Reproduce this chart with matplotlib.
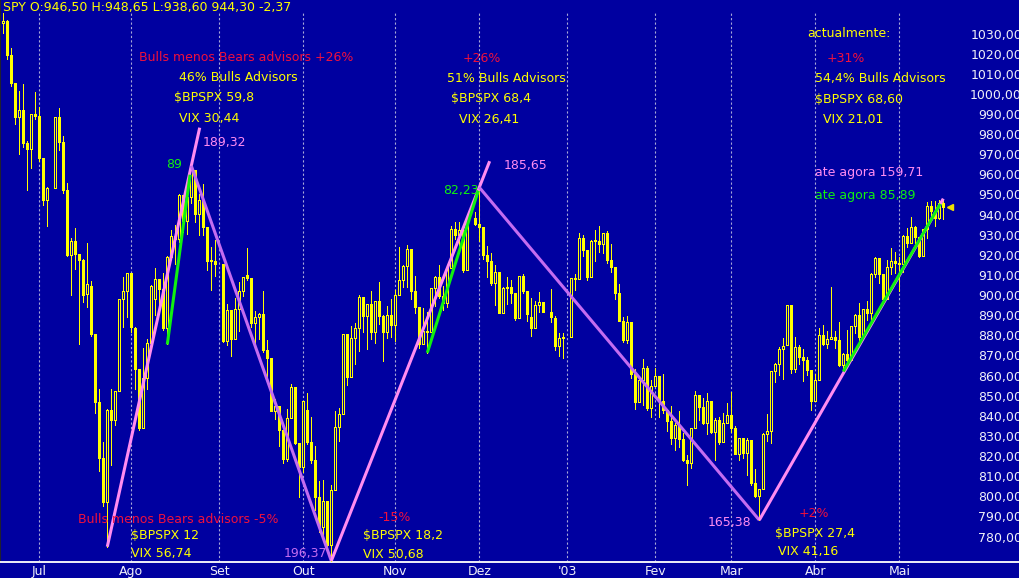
import numpy as np
import pandas as pd
import matplotlib
matplotlib.use("Agg")
import matplotlib.pyplot as plt
import matplotlib.transforms as mtransforms

# ---- daily bars (Jun 18 2002 .. May 16 2003), one line per month ----
opens = [
    1036.17, 1037.14, 1019.99, 1006.29, 989.14, 992.72, 976.14, 973.53, 990.64,
    989.82, 968.65, 948.09, 953.99, 989.03, 976.98, 952.83, 920.47, 927.37, 921.39, 917.93, 901.05, 905.45, 881.56, 847.76, 819.85, 797.71, 843.42, 838.68, 852.84, 898.96, 902.78,
    911.62, 884.40, 864.24, 834.60, 859.57, 876.77, 898.73, 908.64, 903.80, 884.21, 919.62, 930.25, 928.77, 950.70, 937.43, 949.36, 962.70, 940.86, 947.95, 934.82, 917.87, 917.80,
    916.07, 878.02, 893.40, 879.15, 893.92, 902.96, 910.63, 909.45, 886.91, 889.81, 891.10, 873.52, 869.46, 843.32, 845.39, 833.70, 819.27, 839.66, 854.95, 827.37,
    815.28, 843.77, 827.91, 818.95, 800.58, 785.28, 798.55, 776.76, 803.92, 835.32, 841.44, 881.27, 860.02, 879.20, 884.39, 899.72, 890.16, 896.14, 882.50, 897.65, 890.23, 882.15, 890.71,
    885.76, 900.96, 908.35, 915.39, 923.76, 902.65, 894.74, 876.19, 882.95, 882.53, 904.27, 909.83, 900.36, 896.74, 914.15, 933.76, 930.55, 932.87, 913.31, 938.87,
    936.31, 934.53, 920.75, 917.58, 906.55, 912.23, 892.00, 904.45, 904.96, 901.58, 889.48, 910.40, 902.99, 890.02, 884.25, 895.74, 897.38, 892.47, 889.31, 875.40, 879.39,
    879.82, 909.03, 908.59, 929.01, 922.93, 909.93, 927.58, 927.57, 926.26, 931.66, 918.22, 914.60, 901.78, 887.62, 878.36, 887.34, 861.40, 847.48, 858.54, 864.36, 844.61,
    855.70, 860.32, 848.20, 843.59, 838.15, 829.69, 835.97, 829.20, 818.68, 817.37, 834.89, 851.17, 845.13, 837.10, 848.17, 832.58, 838.57, 827.55, 837.28,
    841.15, 834.81, 821.99, 829.85, 822.10, 828.89, 807.48, 800.73, 804.19, 831.89, 833.27, 862.79, 866.45, 874.02, 875.84, 895.79, 864.23, 874.74, 869.95, 868.52, 863.50,
    848.18, 858.48, 880.90, 876.45, 878.85, 879.93, 878.29, 865.99, 871.58, 868.30, 885.23, 890.81, 879.91, 893.58, 892.01, 911.37, 919.02, 911.43, 898.81, 914.84, 917.84,
    916.92, 916.30, 930.08, 926.55, 934.39, 929.62, 920.27, 933.41, 945.11, 942.30, 939.28, 946.50,
]
highs = [
    1040.83, 1037.61, 1023.33, 1006.29, 1002.11, 1005.88, 977.43, 990.67, 1001.79,
    994.46, 968.65, 954.30, 989.07, 993.56, 979.63, 956.34, 929.16, 934.31, 921.39, 918.65, 926.52, 907.80, 881.56, 854.13, 827.69, 844.32, 853.83, 852.85, 898.96, 909.81, 911.64,
    911.62, 884.72, 864.24, 874.44, 878.74, 905.84, 913.95, 908.64, 911.71, 920.21, 933.29, 935.38, 951.17, 950.70, 951.59, 965.00, 962.70, 950.80, 955.82, 934.82, 924.59, 928.15,
    916.07, 896.10, 893.40, 899.07, 907.34, 909.89, 924.02, 909.45, 892.75, 891.84, 902.68, 878.45, 869.46, 849.32, 845.39, 833.70, 844.22, 856.60, 854.95, 827.37,
    847.93, 851.93, 840.02, 825.90, 808.21, 808.86, 798.55, 806.51, 843.27, 844.39, 881.27, 881.27, 885.35, 886.68, 900.69, 899.72, 896.14, 902.94, 897.71, 907.44, 890.64, 895.28, 898.83,
    903.42, 924.58, 915.83, 925.66, 923.76, 910.11, 894.74, 894.30, 892.51, 904.27, 910.21, 915.91, 905.45, 915.01, 935.13, 937.15, 937.15, 932.87, 940.41, 941.82,
    954.28, 934.53, 925.25, 921.49, 915.48, 912.23, 904.95, 909.94, 908.37, 901.58, 910.42, 911.22, 902.99, 899.19, 897.79, 902.43, 897.38, 903.89, 890.46, 882.10, 881.93,
    909.03, 911.25, 931.77, 930.81, 922.93, 928.31, 932.89, 935.05, 931.66, 932.59, 926.03, 914.60, 906.00, 889.74, 890.25, 887.34, 863.95, 860.76, 868.72, 865.48, 858.33,
    864.64, 860.32, 861.63, 844.23, 845.73, 837.16, 843.02, 832.12, 821.25, 834.89, 852.87, 851.17, 849.37, 852.28, 848.17, 839.55, 840.10, 842.19, 847.00,
    852.34, 835.43, 829.87, 829.85, 829.55, 828.89, 814.25, 804.19, 832.02, 841.39, 862.79, 866.94, 874.99, 879.60, 895.90, 895.79, 879.87, 875.80, 874.15, 869.88, 863.50,
    861.28, 884.57, 885.89, 882.73, 904.89, 883.11, 887.35, 871.78, 883.34, 885.26, 891.27, 896.77, 893.83, 898.01, 911.74, 919.74, 919.02, 911.43, 918.15, 924.24, 922.01,
    919.68, 930.56, 933.88, 939.61, 935.22, 929.62, 933.77, 946.84, 947.51, 947.29, 948.23, 948.65,
]
lows = [
    1030.92, 1017.88, 1004.59, 985.65, 970.85, 974.21, 952.92, 963.74, 988.31,
    967.43, 945.54, 934.87, 953.99, 972.91, 951.71, 920.29, 900.94, 913.71, 876.46, 897.13, 895.03, 880.60, 842.07, 813.26, 796.13, 775.68, 816.11, 835.92, 852.84, 884.70, 889.88,
    882.48, 853.95, 833.44, 834.60, 854.15, 875.17, 890.77, 892.38, 883.62, 876.20, 918.17, 916.21, 927.21, 931.86, 931.32, 946.43, 937.17, 930.42, 930.36, 913.21, 903.33, 910.17,
    877.51, 875.73, 870.50, 879.15, 882.92, 900.50, 908.47, 884.84, 877.05, 878.91, 872.38, 857.39, 843.09, 839.09, 825.76, 817.38, 818.46, 839.66, 826.84, 800.20,
    812.82, 826.50, 817.25, 794.10, 782.96, 779.50, 775.80, 768.63, 803.92, 828.37, 841.44, 856.28, 860.02, 866.58, 873.06, 882.40, 873.82, 879.00, 877.03, 886.15, 867.91, 879.19, 879.75,
    877.71, 900.96, 904.91, 905.00, 898.68, 891.62, 874.63, 876.19, 872.05, 882.53, 895.35, 899.48, 893.09, 894.93, 914.15, 928.41, 923.31, 912.10, 913.31, 935.58,
    927.72, 918.73, 909.51, 905.90, 895.96, 891.97, 892.00, 896.48, 897.00, 888.48, 889.48, 901.74, 887.82, 880.32, 884.25, 892.26, 892.29, 887.48, 873.62, 870.23, 869.45,
    879.82, 903.07, 908.59, 919.93, 908.32, 909.93, 917.66, 922.05, 921.72, 916.70, 911.98, 899.02, 887.62, 877.64, 876.89, 859.71, 844.25, 847.48, 845.86, 843.74, 840.34,
    855.70, 840.19, 842.11, 833.25, 826.70, 823.53, 825.09, 818.49, 806.29, 815.03, 834.89, 838.79, 836.56, 831.48, 832.16, 818.54, 826.68, 827.55, 837.28,
    832.74, 821.96, 819.00, 819.85, 811.23, 806.57, 800.30, 788.90, 804.19, 828.26, 827.17, 857.36, 861.21, 859.01, 875.84, 862.02, 862.59, 866.47, 858.09, 860.83, 843.68,
    847.85, 858.48, 876.12, 874.23, 878.85, 874.68, 865.72, 862.76, 865.92, 868.30, 881.85, 877.93, 879.20, 888.17, 886.70, 909.89, 906.69, 897.52, 898.81, 911.10, 911.70,
    902.83, 912.35, 924.55, 926.38, 926.44, 919.72, 920.27, 929.30, 938.91, 935.24, 938.79, 938.60,
]
closes = [
    1037.14, 1019.99, 1006.29, 989.14, 992.72, 976.14, 973.53, 990.64, 989.82,
    968.65, 948.09, 953.99, 989.03, 976.98, 952.83, 920.47, 927.37, 921.39, 917.93, 900.94, 906.04, 881.56, 847.75, 819.85, 797.70, 843.43, 838.68, 852.84, 898.96, 902.78, 911.62,
    884.66, 864.24, 834.60, 859.57, 876.77, 905.46, 908.64, 903.80, 884.21, 919.62, 930.25, 928.77, 950.70, 937.43, 949.36, 962.70, 940.86, 947.95, 934.82, 917.87, 917.80, 916.07,
    878.02, 893.40, 879.15, 893.92, 902.96, 909.58, 909.45, 886.91, 889.81, 891.10, 873.52, 869.46, 843.32, 845.39, 833.70, 819.29, 839.66, 854.95, 827.37, 815.28,
    847.91, 827.91, 818.95, 800.58, 785.28, 798.55, 776.76, 803.92, 835.32, 841.44, 881.27, 860.02, 879.20, 884.39, 899.72, 890.16, 896.14, 882.50, 897.65, 890.23, 882.15, 890.71, 885.76,
    900.96, 908.35, 915.39, 923.76, 902.65, 894.74, 876.19, 882.95, 882.53, 904.27, 909.83, 900.36, 896.74, 914.15, 933.76, 930.55, 932.87, 913.31, 938.87, 936.31,
    934.53, 920.75, 917.58, 906.55, 912.23, 892.00, 904.45, 904.96, 901.58, 889.48, 910.40, 902.99, 891.12, 884.25, 895.76, 897.38, 892.47, 889.66, 875.40, 879.39, 879.82,
    909.03, 908.59, 929.01, 922.93, 909.93, 927.57, 927.57, 926.26, 931.66, 918.22, 914.60, 901.78, 887.62, 878.36, 887.34, 861.40, 847.48, 858.54, 864.36, 844.61, 855.70,
    860.32, 848.20, 843.59, 838.15, 829.69, 835.97, 829.20, 818.68, 817.37, 834.89, 851.17, 845.13, 837.10, 848.17, 832.58, 838.57, 827.55, 837.28, 841.15,
    834.81, 821.99, 829.85, 822.10, 828.89, 807.48, 800.73, 804.19, 831.90, 833.27, 862.79, 866.45, 874.02, 875.67, 895.79, 864.23, 874.74, 869.95, 868.52, 863.50, 848.18,
    858.48, 880.90, 876.45, 878.85, 879.93, 878.29, 865.99, 871.58, 868.30, 885.23, 890.81, 879.91, 893.58, 892.01, 911.37, 919.02, 911.43, 898.81, 914.84, 917.84, 916.92,
    916.30, 930.08, 926.55, 934.39, 929.62, 920.27, 933.41, 945.11, 942.30, 939.28, 946.67, 944.30,
]

market_holidays = ["2002-07-04", "2002-09-02", "2002-11-28", "2002-12-25",
                   "2003-01-01", "2003-01-20", "2003-02-17", "2003-04-18"]
skipped_slots = ["2003-01-20", "2003-02-17", "2003-04-18"]  # chart leaves no gap for these
month_labels = ["Jul", "Ago", "Set", "Out", "Nov", "Dez", "'03", "Fev", "Mar", "Abr", "Mai"]
price_ticks = list(range(780, 1031, 10))

# swing legs: (start date, start field, end date, end field, extend, kind)
legs = [
    ("2002-07-24", "low", "2002-08-22", "high", 1.10, "up"),
    ("2002-08-22", "high", "2002-10-10", "low", 1.00, "down"),
    ("2002-10-10", "low", "2002-12-02", "high", 1.07, "up"),
    ("2002-12-02", "high", "2003-03-12", "low", 1.00, "down"),
    ("2003-03-12", "low", "2003-05-16", "high", 1.00, "up"),
    ("2002-08-14", "low", "2002-08-22", "high", 0.95, "short"),
    ("2002-11-13", "low", "2002-12-02", "high", 0.98, "short"),
    ("2003-04-10", "low", "2003-05-16", "high", 0.97, "short"),
]

bg = "#0000A0"
yellow = "#FFFF00"
red = "#F0103C"
pink = "#FF8CF0"
violet = "#C46CF0"
green = "#10F010"
white = "#F0F0F8"

# (text, slot, price, colour)
notes = [
    ("Bulls menos Bears advisors +26%", 33.85, 1018.7, red),
    ("46% Bulls Advisors", 43.9, 1008.8, yellow),
    ("$BPSPX 59,8", 42.75, 998.7, yellow),
    ("VIX 30,44", 43.85, 988.4, yellow),
    ("189,32", 49.9, 976.5, pink),
    ("89", 40.7, 965.4, green),
    ("+26%", 114.9, 1018.1, red),
    ("51% Bulls Advisors", 110.85, 1008.3, yellow),
    ("$BPSPX 68,4", 111.85, 998.2, yellow),
    ("VIX 26,41", 113.85, 988.1, yellow),
    ("185,65", 125.0, 964.9, pink),
    ("82,23", 109.85, 952.6, green),
    ("actualmente:", 200.9, 1030.6, yellow),
    ("+31%", 205.85, 1018.1, red),
    ("54,4% Bulls Advisors", 202.9, 1008.3, yellow),
    ("$BPSPX 68,60", 202.9, 998.0, yellow),
    ("VIX 21,01", 204.85, 987.8, yellow),
    ("ate agora 159,71", 202.9, 961.8, pink),
    ("ate agora 85,89", 202.9, 950.3, green),
    ("Bulls menos Bears advisors -5%", 18.75, 789.3, red),
    ("$BPSPX 12", 31.85, 781.0, yellow),
    ("VIX 56,74", 31.85, 772.4, yellow),
    ("196,37", 70.0, 772.4, violet),
    ("-15%", 93.75, 790.3, red),
    ("$BPSPX 18,2", 89.85, 781.3, yellow),
    ("VIX 50,68", 89.85, 771.9, yellow),
    ("165,38", 176.0, 787.6, pink),
    ("+2%", 198.75, 792.3, red),
    ("$BPSPX 27,4", 192.85, 782.3, yellow),
    ("VIX 41,16", 193.75, 773.5, yellow),
]

# ---- layout of the day slots ----
weekdays = pd.bdate_range("2002-06-18", "2003-05-16")
dates = weekdays.difference(pd.to_datetime(market_holidays))
slots = weekdays.difference(pd.to_datetime(skipped_slots))
x = slots.get_indexer(dates).astype(float)

o = np.array(opens); h = np.array(highs); l = np.array(lows); c = np.array(closes)
assert len(o) == len(h) == len(l) == len(c) == len(dates)

fig = plt.figure(figsize=(10.2, 5.78), dpi=100, facecolor=bg)
ax = fig.add_axes([0, 16 / 578, 1, 562 / 578])
ax.set_facecolor(bg)

px_per_slot = 4.0
ax.set_xlim(-3.3 / px_per_slot, (1020 - 3.3) / px_per_slot)
ax.set_ylim(1030 - 527 / 2.012, 1030 + 35 / 2.012)

# month grid
firsts = pd.Series(np.arange(len(slots)), index=slots)
month_start = firsts.groupby([slots.year, slots.month]).first().values[1:]
for s in month_start:
    ax.axvline(s, ymax=1 - 13 / 562, color="#A8A8D8", lw=0.8, ls=(0, (2, 2)), zorder=1)
ax.set_xticks(month_start)
ax.set_xticklabels(month_labels, color=white, fontsize=9)
ax.tick_params(axis="x", length=0, pad=2)
ax.set_yticks([])

for side in ["top", "right"]:
    ax.spines[side].set_visible(False)
ax.spines["bottom"].set_color(white)
ax.spines["bottom"].set_linewidth(1.4)
ax.spines["left"].set_color("#202030")
ax.spines["left"].set_linewidth(1.5)

# candles: thin wicks, hollow up bodies, filled down bodies
ax.vlines(x, l, h, color=yellow, lw=0.72, zorder=3, antialiased=False)
up = c >= o
body = np.maximum(np.abs(c - o), 0.4)
ax.bar(x[up], body[up], bottom=o[up], width=0.5, facecolor=bg,
       edgecolor=yellow, linewidth=0.72, zorder=4, antialiased=False)
ax.bar(x[~up], body[~up], bottom=c[~up], width=0.5, color=yellow,
       edgecolor=yellow, linewidth=0.72, zorder=4, antialiased=False)

# swing lines
fields = {"low": l, "high": h}
pos = {d: i for i, d in enumerate(dates)}
for d0, f0, d1, f1, ext, kind in legs:
    i0, i1 = pos[pd.Timestamp(d0)], pos[pd.Timestamp(d1)]
    x0, y0 = x[i0], fields[f0][i0]
    x1, y1 = x[i1], fields[f1][i1]
    x1, y1 = x0 + (x1 - x0) * ext, y0 + (y1 - y0) * ext
    colour = {"up": pink, "down": violet, "short": green}[kind]
    ax.plot([x0, x1], [y0, y1], color=colour, lw=2.2,
            solid_capstyle="butt", zorder=6 if kind == "short" else 5)

# last price marker
ax.plot(x[-1] + 1.7, c[-1], marker="<", color="#F0E000", markersize=4.5, zorder=6)

for txt, sx, sy, col in notes:
    ax.text(sx, sy, txt, color=col, fontsize=9, ha="left", va="center", zorder=7)

# price scale on the right
tr = mtransforms.blended_transform_factory(ax.transAxes, ax.transData)
for p in price_ticks:
    ax.text(1 + 2 / 1020, p, f"{p:.2f}".replace(".", ","), transform=tr,
            color=white, fontsize=9, ha="right", va="center", clip_on=False)

ax.text(3 / 1020, 1 - 7 / 562, "SPY O:946,50 H:948,65 L:938,60 944,30 -2,37",
        transform=ax.transAxes, color=yellow, fontsize=9, ha="left", va="center")

fig.savefig("out.png", dpi=100, facecolor=bg)
